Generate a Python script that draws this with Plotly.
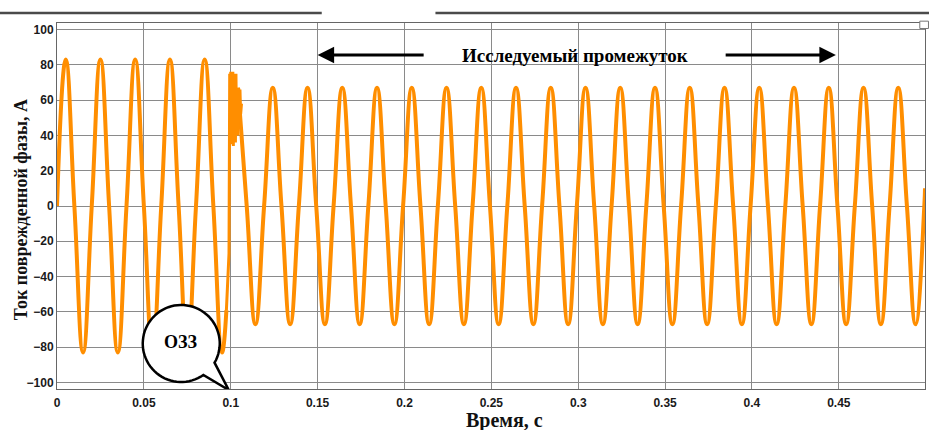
import math
import plotly.graph_objects as go

# ---------------- data ----------------
# pre-fault wave: extrema and zero crossings (s, A)
pre_t = [0.0, 0.005, 0.010, 0.015, 0.020, 0.025, 0.030, 0.035, 0.040, 0.045,
         0.050, 0.055, 0.060, 0.065, 0.070, 0.075, 0.080, 0.085, 0.090, 0.095, 0.0975]
pre_v = [0, 83, 0, -83, 0, 83, 0, -83, 0, 83,
         0, -83, 0, 83, 0, -83, 0, 83, 0, -83, -59]

# transient at the moment of the fault
tr_t = [0.0975, 0.0990, 0.0994, 0.0997, 0.1000, 0.1003, 0.1006, 0.1009, 0.1012,
        0.1015, 0.1018, 0.1021, 0.1024, 0.1027, 0.1030, 0.1033, 0.1037, 0.1041,
        0.1045, 0.1049, 0.1053, 0.1057, 0.1062]
tr_v = [-59, -27, 75, 38, 76, 35, 74, 40, 76,
        34, 75, 42, 73, 36, 75, 45, 66, 40, 67, 48, 66, 52, 58]

# post-fault wave: extrema and zero crossings (s, A)
post_t = [0.1042, 0.1092, 0.1142, 0.1192, 0.1242, 0.1292, 0.1342, 0.1392, 0.1442,
          0.1492, 0.1542, 0.1592, 0.1642, 0.1692, 0.1742, 0.1792, 0.1842,
          0.1892, 0.1942, 0.1992, 0.2042, 0.2092, 0.2142, 0.2192, 0.2242,
          0.2292, 0.2342, 0.2392, 0.2442, 0.2492, 0.2542, 0.2592, 0.2642,
          0.2692, 0.2742, 0.2792, 0.2842, 0.2892, 0.2942, 0.2992, 0.3042,
          0.3092, 0.3142, 0.3192, 0.3242, 0.3292, 0.3342, 0.3392, 0.3442,
          0.3492, 0.3542, 0.3592, 0.3642, 0.3692, 0.3742, 0.3792, 0.3842,
          0.3892, 0.3942, 0.3992, 0.4042, 0.4092, 0.4142, 0.4192, 0.4242,
          0.4292, 0.4342, 0.4392, 0.4442, 0.4492, 0.4542, 0.4592, 0.4642,
          0.4692, 0.4742, 0.4792, 0.4842, 0.4892, 0.4942, 0.4992, 0.4996]
post_v = [67, 0, -67, 0, 67, 0, -67, 0, 67,
          0, -67, 0, 67, 0, -67, 0, 67,
          0, -67, 0, 67, 0, -67, 0, 67,
          0, -67, 0, 67, 0, -67, 0, 67,
          0, -67, 0, 67, 0, -67, 0, 67,
          0, -67, 0, 67, 0, -67, 0, 67,
          0, -67, 0, 67, 0, -67, 0, 67,
          0, -67, 0, 67, 0, -67, 0, 67,
          0, -67, 0, 67, 0, -67, 0, 67,
          0, -67, 0, 67, 0, -67, 0, 10]

x_ticks = [0, 0.05, 0.1, 0.15, 0.2, 0.25, 0.3, 0.35, 0.4, 0.45]
x_labels = ["0", "0.05", "0.1", "0.15", "0.2", "0.25", "0.3", "0.35", "0.4", "0.45"]
y_ticks = [-100, -80, -60, -40, -20, 0, 20, 40, 60, 80, 100]

x_title = "Время, с"
y_title = "Ток поврежденной фазы, А"
span_label = "Исследуемый промежуток"
span_start, span_end = 0.15, 0.45
fault_label = "ОЗЗ"
fault_time = 0.1

# ---------------- figure ----------------
ORANGE = "#FF8E00"
fig = go.Figure()
fig.add_trace(go.Scatter(x=pre_t, y=pre_v, mode="lines",
                         line=dict(color=ORANGE, width=4, shape="spline", smoothing=1.3),
                         showlegend=False, hoverinfo="skip"))
fig.add_trace(go.Scatter(x=post_t, y=post_v, mode="lines",
                         line=dict(color=ORANGE, width=4, shape="spline", smoothing=1.3),
                         showlegend=False, hoverinfo="skip"))
fig.add_trace(go.Scatter(x=tr_t, y=tr_v, mode="lines",
                         line=dict(color=ORANGE, width=3),
                         showlegend=False, hoverinfo="skip"))

serif = "Liberation Serif"
sans = "Liberation Sans"

fig.update_layout(
    width=929, height=430,
    margin=dict(l=57, r=4, t=23, b=41, autoexpand=False),
    paper_bgcolor="white", plot_bgcolor="white",
    xaxis=dict(range=[0, 0.4996], tickvals=x_ticks, ticktext=x_labels,
               automargin=False,
               showgrid=True, gridcolor="#8a8a8a", gridwidth=1,
               showline=True, linecolor="#666", linewidth=1, mirror=True,
               zeroline=False, ticks="", ticklen=0, ticklabelstandoff=3,
               tickfont=dict(family=sans, size=12, color="#1a1a1a", weight="bold")),
    yaxis=dict(range=[-103.7, 103.7], tickvals=y_ticks,
               automargin=False,
               showgrid=True, gridcolor="#8a8a8a", gridwidth=1,
               showline=True, linecolor="#666", linewidth=1, mirror=True,
               zeroline=False, ticks="", ticklen=0,
               tickfont=dict(family=sans, size=12, color="#1a1a1a", weight="bold")),
)

# axis titles placed as in the reference
fig.add_annotation(x=0.515, y=-0.085, xref="paper", yref="paper", showarrow=False,
                   yanchor="middle", text=x_title,
                   font=dict(family=serif, size=20, color="#111", weight="bold"))
fig.add_annotation(x=-0.042, y=0.49, xref="paper", yref="paper", showarrow=False,
                   xanchor="center", yanchor="middle", textangle=-90, text=y_title,
                   font=dict(family=serif, size=18, color="#111", weight="bold"))

# span arrows and label
span_y = 85.5
fig.add_annotation(x=span_start, y=span_y, ax=0.2119, ay=span_y, xref="x", yref="y",
                   axref="x", ayref="y", showarrow=True, arrowhead=2, arrowsize=1.1,
                   arrowwidth=3, arrowcolor="black", text="")
fig.add_annotation(x=span_end - 0.0017, y=span_y, ax=0.384, ay=span_y, xref="x", yref="y",
                   axref="x", ayref="y", showarrow=True, arrowhead=2, arrowsize=1.1,
                   arrowwidth=3, arrowcolor="black", text="")
fig.add_annotation(x=0.2983, y=span_y, xref="x", yref="y", showarrow=False,
                   text=span_label,
                   font=dict(family=serif, size=19, color="black", weight="bold"))

# speech bubble for the fault moment (pixel path anchored at the tip)
cx, cy, r = -49.5, 45.5, 38.5
a_start, a_end = math.radians(-30), math.radians(-55)
pts = []
n = 72
sweep = 2 * math.pi - (a_start - a_end)
for i in range(n + 1):
    a = a_start + i * sweep / n
    pts.append((cx + r * math.cos(a), cy + r * math.sin(a)))
path = "M " + " L ".join(f"{px:.1f},{py:.1f}" for px, py in pts) + " L -2,-1 Z"
fig.add_shape(type="path", path=path, xref="x", yref="y",
              xsizemode="pixel", ysizemode="pixel",
              xanchor=fault_time, yanchor=-103.7,
              line=dict(color="black", width=2.5), fillcolor="white", layer="above")
fig.add_annotation(x=0.0715, y=-77, xref="x", yref="y", showarrow=False,
                   text=fault_label,
                   font=dict(family=serif, size=18, color="black", weight="bold"))

# window-edge artefacts at the very top
fig.add_shape(type="line", xref="paper", yref="paper", x0=-0.07, x1=0.305,
              y0=1.027, y1=1.027, line=dict(color="#4a4a4a", width=2.5))
fig.add_shape(type="line", xref="paper", yref="paper", x0=0.436, x1=1.01,
              y0=1.027, y1=1.027, line=dict(color="#4a4a4a", width=2.5))
fig.add_shape(type="rect", xref="paper", yref="paper", x0=0.994, x1=1.004,
              y0=0.985, y1=1.005, line=dict(color="#777", width=1), fillcolor="white")

fig.write_html("out.html", config={"displayModeBar": False},
               post_script="document.body.style.margin='0px';document.body.style.overflow='hidden';")
